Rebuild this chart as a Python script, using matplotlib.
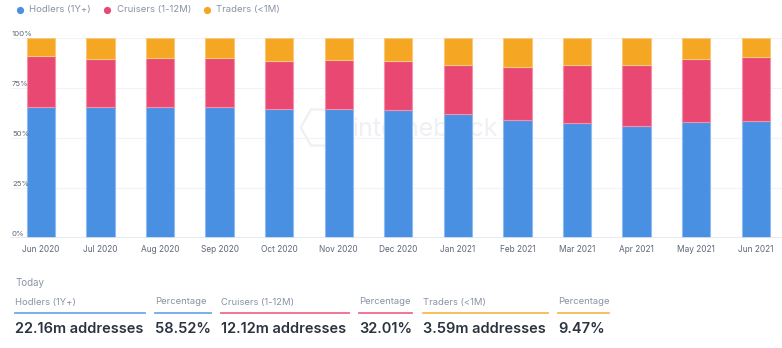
import matplotlib
matplotlib.use("Agg")
import matplotlib.pyplot as plt
from matplotlib import transforms
from matplotlib.lines import Line2D

plt.rcParams['font.family'] = ['Inter', 'DejaVu Sans']

# Monthly share of addresses by holding time (%)
months = ["Jun 2020", "Jul 2020", "Aug 2020", "Sep 2020", "Oct 2020", "Nov 2020",
          "Dec 2020", "Jan 2021", "Feb 2021", "Mar 2021", "Apr 2021", "May 2021", "Jun 2021"]
series_names = ["Hodlers (1Y+)", "Cruisers (1-12M)", "Traders (<1M)"]

# Today's snapshot
today_counts = [22.16, 12.12, 3.59]      # millions of addresses
today_pct = [58.52, 32.01, 9.47]

hodlers = [65.7, 65.4, 65.7, 65.7, 64.4, 64.7, 64.1, 62.1, 59.1, 57.7, 56.1, 58.1, today_pct[0]]
cruisers = [25.3, 24.3, 24.5, 24.5, 24.1, 24.3, 24.4, 24.6, 26.3, 28.7, 30.6, 31.3, today_pct[1]]
traders = [9.0, 10.3, 9.8, 9.8, 11.5, 11.0, 11.5, 13.3, 14.6, 13.6, 13.3, 10.6, today_pct[2]]

colors = ["#4a90e2", "#e94873", "#f5a623"]
edge_colors = ["#8cbcf2", "#f391ab", "#f9c97a"]
line_colors = ["#6fa8ee", "#f06a8e", "#f8b955"]

W, H = 782, 348
fig = plt.figure(figsize=(W / 100, H / 100), dpi=100)


def fx(p):
    return p / W


def fy(p):
    return 1 - p / H


# Plot area in pixel terms
ax_left, ax_right, ax_top, ax_bottom = 11, 782, 38, 238.3
ax = fig.add_axes([fx(ax_left), fy(ax_bottom), (ax_right - ax_left) / W, (ax_bottom - ax_top) / H])
ax.set_xlim(-0.5, 12.44)
ax.set_ylim(0, 100)


def ax_frac(px, py):
    return ((px - ax_left) / (ax_right - ax_left), (ax_bottom - py) / (ax_bottom - ax_top))


# Faint watermark behind the bars
wx, wy = ax_frac(352, 129)
ax.text(wx, wy, "intotheblock", transform=ax.transAxes, fontsize=18, color="#eef0f4",
        ha="left", va="center", zorder=0)
hx, hy = ax_frac(321, 127)
ax.plot([hx], [hy], marker="H", markersize=30, markerfacecolor="none",
        markeredgecolor="#eef0f4", markeredgewidth=1.6, transform=ax.transAxes, zorder=0)

x = list(range(len(months)))
bottoms = [0] * len(months)
for vals, c, ec in zip([hodlers, cruisers, traders], colors, edge_colors):
    ax.bar(x, vals, bottom=bottoms, width=0.475, color=c, edgecolor=ec, linewidth=0.8, zorder=2)
    bottoms = [b + v for b, v in zip(bottoms, vals)]

# Grid and axis styling
for yv in [25, 50, 75, 100]:
    ax.axhline(yv, color="#f2f3f6", lw=0.8, zorder=1)
ax.axhline(0, color="#e3e7ef", lw=1.2, zorder=3)
for s in ax.spines.values():
    s.set_visible(False)
ax.set_yticks([])
ax.set_xticks(x)
ax.set_xticklabels(months, fontsize=6.0, color="#5d6778")
ax.tick_params(axis="x", length=0, pad=4.6)

# Y labels sit just above their gridlines, flush left
ylab_tr = transforms.offset_copy(
    transforms.blended_transform_factory(fig.transFigure, ax.transData),
    fig=fig, x=0, y=4.5, units="dots")
for yv in [0, 25, 50, 75, 100]:
    ax.text(fx(12), yv, f"{yv}%", transform=ylab_tr, fontsize=5.6, color="#5d6778",
            ha="left", va="center")

# Legend row
legend_x = [20, 107, 207]
for name, c, lx in zip(series_names, colors, legend_x):
    fig.lines.append(Line2D([fx(lx)], [fy(9.5)], transform=fig.transFigure, marker="o",
                            markersize=5.2, color=c, markeredgewidth=0, linestyle="none"))
    fig.text(fx(lx + 9.5), fy(9.5), name, fontsize=6.9, color="#8a93a4", ha="left", va="center")

# Today summary panel
fig.text(fx(15), fy(283), "Today", fontsize=7.0, color="#8a93a4", ha="left", va="center")

columns = [
    (15, 145, series_names[0], f"{today_counts[0]:.2f}m addresses", line_colors[0]),
    (155, 211, "Percentage", f"{today_pct[0]:.2f}%", line_colors[0]),
    (221, 349, series_names[1], f"{today_counts[1]:.2f}m addresses", line_colors[1]),
    (359, 412, "Percentage", f"{today_pct[1]:.2f}%", line_colors[1]),
    (423, 548, series_names[2], f"{today_counts[2]:.2f}m addresses", line_colors[2]),
    (558, 609, "Percentage", f"{today_pct[2]:.2f}%", line_colors[2]),
]
for x0, x1, label, value, lc in columns:
    fig.text(fx(x0), fy(302), label, fontsize=6.8, color="#8a93a4", ha="left", va="center")
    fig.lines.append(Line2D([fx(x0), fx(x1)], [fy(313.3), fy(313.3)], transform=fig.transFigure,
                            color=lc, lw=1.3))
    fig.text(fx(x0), fy(329), value, fontsize=10.5, fontweight="semibold", color="#2b3341",
             ha="left", va="center")

fig.savefig("out.png", dpi=100, facecolor="white")
